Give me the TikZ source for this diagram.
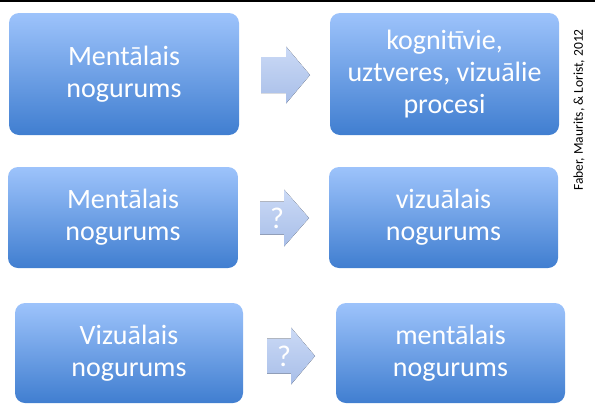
\documentclass[tikz,border=0pt]{standalone}
\usepackage{fontspec}
\setmainfont{Carlito}
\usetikzlibrary{shadings}
\definecolor{boxtop}{RGB}{157,195,251}
\definecolor{boxbot}{RGB}{64,126,208}
\definecolor{arrtop}{RGB}{203,218,246}
\definecolor{arrbot}{RGB}{168,190,232}
\tikzset{
  tiredbox/.style={rounded corners=10pt, top color=boxtop, bottom color=boxbot,
    text=white, align=center, inner sep=0pt,
    font=\fontsize{28}{32}\selectfont},
  qmark/.style={text=white, font=\fontsize{30}{34}\selectfont, inner sep=0pt}
}
\begin{document}
\begin{tikzpicture}[x=1pt,y=-1pt]
  \useasboundingbox (0,0) rectangle (595,405);
  \draw[line width=2pt] (0,1) -- (595,1);
  % Row 1: mental fatigue -> processes
  \node[tiredbox, minimum width=230pt, minimum height=122pt] (ment1) at (124,74) {Mentālais\\nogurums};
  \node[tiredbox, minimum width=229pt, minimum height=122pt] (proc) at (444.5,74) {kognitīvie,\\uztveres, vizuālie\\procesi};
  % Row 2: mental fatigue -> visual fatigue
  \node[tiredbox, minimum width=230pt, minimum height=101pt] (ment2) at (123,217.5) {Mentālais\\nogurums};
  \node[tiredbox, minimum width=229pt, minimum height=101pt] (vis2) at (443.5,217.5) {vizuālais\\nogurums};
  % Row 3: visual fatigue -> mental fatigue
  \node[tiredbox, minimum width=228pt, minimum height=100pt] (vis3) at (129,353) {Vizuālais\\nogurums};
  \node[tiredbox, minimum width=229pt, minimum height=100pt] (ment3) at (450.5,353) {mentālais\\nogurums};
  % block arrows between the rows
  \foreach \nm/\xa/\xh/\xb/\yc/\s/\lab in {go/261/286/310/75/18/{}, q1/260/284/309/218/16.5/?, q2/267/291/315/356/17.5/?}
  {
    \fill[top color=arrtop, bottom color=arrbot] (\xa,\yc-\s) -- (\xh,\yc-\s) -- (\xh,\yc-28.5)
      -- (\xb,\yc) -- (\xh,\yc+28.5) -- (\xh,\yc+\s) -- (\xa,\yc+\s) -- cycle;
    \node[qmark] (\nm) at (\xa+17,\yc) {\lab};
  }
  \node[rotate=90, font=\fontsize{13.5}{16}\selectfont] (cite) at (579,110) {Faber, Maurits, \& Lorist, 2012};
\end{tikzpicture}
\end{document}
